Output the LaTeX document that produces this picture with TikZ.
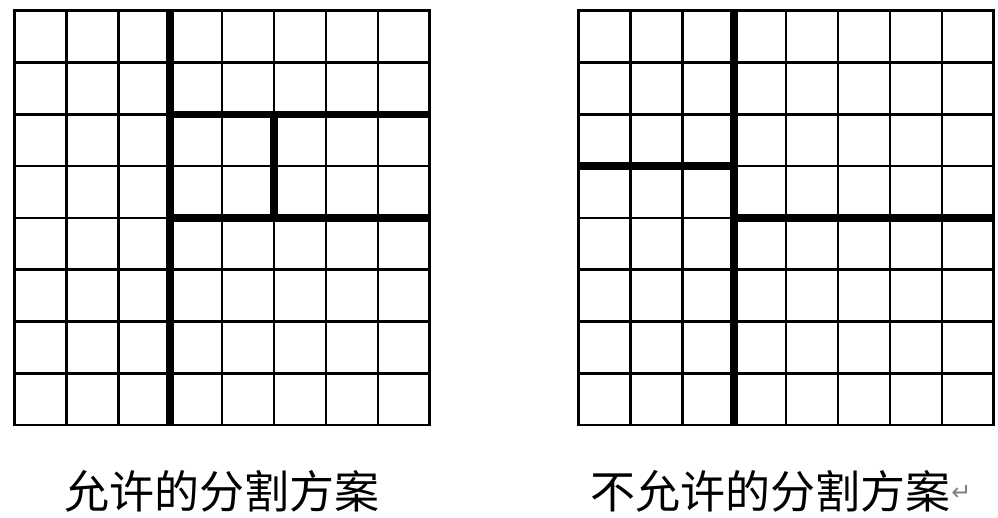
\documentclass[tikz,border=0pt]{standalone}
\usepackage{fontspec}
\newfontfamily\cjk{Noto Sans CJK SC}
\newfontfamily\symfont{DejaVu Sans}
\begin{document}
\begin{tikzpicture}[x=1pt,y=-1pt,
  gridline/.style={line width=2.6pt, line cap=rect, black},
  cutline/.style={line width=7.5pt, line cap=butt, black},
  caption/.style={font=\cjk\fontsize{45}{50}\selectfont, inner sep=0pt}]
\useasboundingbox (0,0) rectangle (998,517);
% left grid
\begin{scope}[shift={(14.5,10.7)}, x=51.9pt, y=-51.8pt]
  \foreach \i in {0,...,8} {
    \draw[gridline] (\i,0) -- (\i,8);
    \draw[gridline] (0,\i) -- (8,\i);
  }
  \draw[cutline] (3,0) -- (3,8);
  \draw[cutline] (3,2) -- (8,2);
  \draw[cutline] (3,4) -- (8,4);
  \draw[cutline] (5,2) -- (5,4);
\end{scope}
% right grid
\begin{scope}[shift={(578.5,10.7)}, x=51.9pt, y=-51.8pt]
  \foreach \i in {0,...,8} {
    \draw[gridline] (\i,0) -- (\i,8);
    \draw[gridline] (0,\i) -- (8,\i);
  }
  \draw[cutline] (3,0) -- (3,8);
  \draw[cutline] (0,3) -- (3,3);
  \draw[cutline] (3,4) -- (8,4);
\end{scope}
\node[caption] (capL) at (221.5,491) {允许的分割方案};
\node[caption] (capR) at (770,491) {不允许的分割方案};
\node[font=\symfont\fontsize{24}{26}\selectfont, text=black!50, inner sep=0pt, anchor=west] (ret) at ([xshift=1pt,yshift=-2pt]capR.east) {↵};
\end{tikzpicture}
\end{document}
